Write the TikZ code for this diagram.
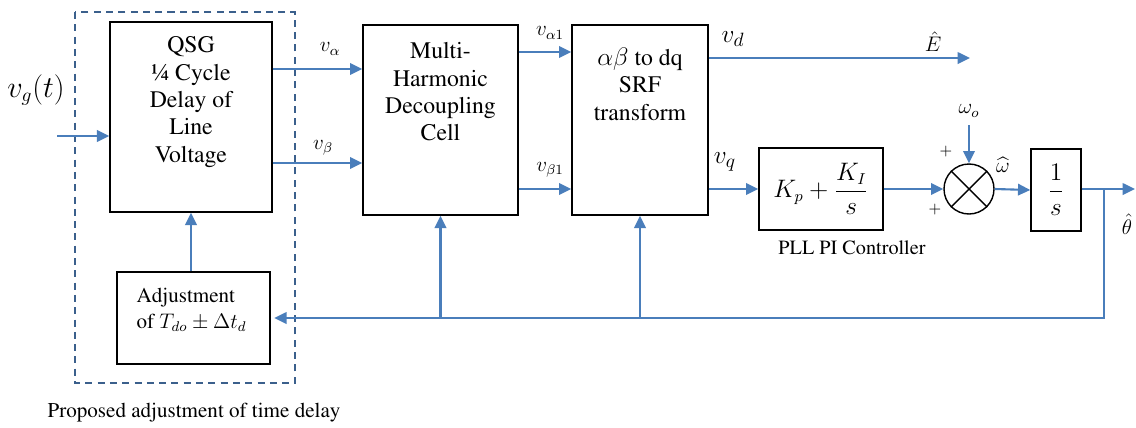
\documentclass[tikz,border=0pt]{standalone}
\usepackage{amsmath}
\usepackage[T1]{fontenc}
\usepackage{textcomp}
\usepackage{times}
\usetikzlibrary{arrows.meta}
\definecolor{lineblue}{RGB}{74,126,187}
\definecolor{dashblue}{RGB}{59,96,140}
\tikzstyle{blk}=[rectangle,draw=black,thick,inner sep=0pt,font=\fontsize{13.5}{15.6}\selectfont,align=center]
\tikzstyle{txt}=[inner sep=0pt,anchor=north,font=\fontsize{13.5}{15.6}\selectfont,align=center]
\tikzstyle{sig}=[draw=lineblue,line width=1.2pt,-{Triangle[length=7pt,width=6.5pt]}]
\tikzstyle{lbl}=[inner sep=1pt,font=\fontsize{11.5}{13}\selectfont]
\tikzstyle{big}=[inner sep=1pt,font=\fontsize{15}{18}\selectfont]

\begin{document}
\begin{tikzpicture}
\useasboundingbox (0,0) rectangle (22.72,-8.54);
\draw[dashblue,thick,dash pattern=on 4pt off 3pt] (1.5,-0.24) rectangle (5.9,-7.66);
\node[blk,minimum width=3.24cm,minimum height=3.8cm] (qsg) at (3.82,-2.34) {};
\node[txt] (qsgtxt) at ([yshift=-0.3cm]qsg.north) {QSG\\ \textonequarter{} Cycle\\ Delay of\\ Line\\ Voltage};
\node[blk,minimum width=3.1cm,minimum height=3.8cm] (mhd) at (8.81,-2.40) {};
\node[txt] (mhdtxt) at ([yshift=-0.36cm]mhd.north) {Multi-\\ Harmonic\\ Decoupling\\ Cell};
\node[blk,minimum width=2.72cm,minimum height=3.8cm] (abdq) at (12.8,-2.40) {};
\node[txt] (abdqtxt) at ([yshift=-0.46cm]abdq.north) {$\alpha\beta$ to dq\\ SRF\\ transform};
\node[blk,minimum width=2.48cm,minimum height=1.64cm] (pi) at (16.42,-3.78) {$K_p+\dfrac{K_I}{s}$};
\node[circle,draw=black,thick,minimum size=1cm] (sum) at (19.38,-3.78) {};
\draw[thick] (sum.45) -- (sum.225);
\draw[thick] (sum.135) -- (sum.315);
\node[blk,minimum width=1cm,minimum height=1.64cm] (int) at (21.12,-3.80) {$\dfrac{1}{s}$};
\node[blk,minimum width=3.06cm,minimum height=1.84cm] (adj) at (3.87,-6.36) {};
\node[txt,anchor=north west,align=left,font=\fontsize{12}{14.5}\selectfont] (adjtxt) at ([xshift=0.4cm,yshift=-0.34cm]adj.north west) {Adjustment\\ of $T_{do}\pm\Delta t_d$};

\coordinate (vgin) at (1.14,-2.72);
\coordinate (eout) at (19.4,-1.16);
\coordinate (thout) at (22.7,-3.78);
\coordinate (branch) at (22.08,-3.78);
\coordinate (w0top) at (19.38,-2.5);

\draw[sig] (vgin) -- (qsg.west |- vgin);
\draw[sig] (qsg.east |- 0,-1.38) -- (mhd.west |- 0,-1.38);
\draw[sig] (qsg.east |- 0,-3.26) -- (mhd.west |- 0,-3.26);
\draw[sig] (mhd.east |- 0,-1.04) -- (abdq.west |- 0,-1.04);
\draw[sig] (mhd.east |- 0,-3.78) -- (abdq.west |- 0,-3.78);
\draw[sig] (abdq.east |- eout) -- (eout);
\draw[sig] (abdq.east |- pi.west) -- (pi.west);
\draw[sig] (pi.east) -- (sum.west);
\draw[sig] (w0top) -- (sum.north);
\draw[sig] (sum.east) -- (int.west);
\draw[sig] (int.east |- thout) -- (thout);
\draw[sig] (branch) |- ([xshift=2pt]adj.east);
\draw[sig] (mhd.south |- adj.east) -- (mhd.south);
\draw[sig] (abdq.south |- adj.east) -- (abdq.south);
\draw[sig] (qsg.south |- adj.north) -- (qsg.south);

\node[inner sep=1pt,font=\fontsize{16}{19}\selectfont] (vg) at (0.72,-1.8) {$v_g(t)$};
\node[lbl] (va) at (6.6,-0.98) {$v_\alpha$};
\node[lbl] (vb) at (6.46,-2.96) {$v_\beta$};
\node[lbl] (va1) at (11.0,-0.66) {$v_{\alpha1}$};
\node[lbl] (vb1) at (11.0,-3.4) {$v_{\beta1}$};
\node[big] (vd) at (14.66,-0.78) {$v_d$};
\node[big] (vq) at (14.5,-3.24) {$v_q$};
\node[lbl] (ehat) at (18.66,-0.84) {$\hat{E}$};
\node[lbl] (w0) at (19.38,-2.22) {$\omega_o$};
\node[lbl] (what) at (20.06,-3.3) {$\widehat{\omega}$};
\node[lbl] (thhat) at (22.54,-4.48) {$\hat{\theta}$};
\node[lbl,font=\small] (p1) at (18.92,-3.04) {$+$};
\node[lbl,font=\small] (p2) at (18.7,-4.2) {$+$};
\node[lbl] (picap) at (17.04,-4.96) {PLL PI Controller};
\node[lbl,font=\fontsize{12}{14}\selectfont] (cap) at (3.88,-8.26) {Proposed adjustment of time delay};
\end{tikzpicture}
\end{document}
